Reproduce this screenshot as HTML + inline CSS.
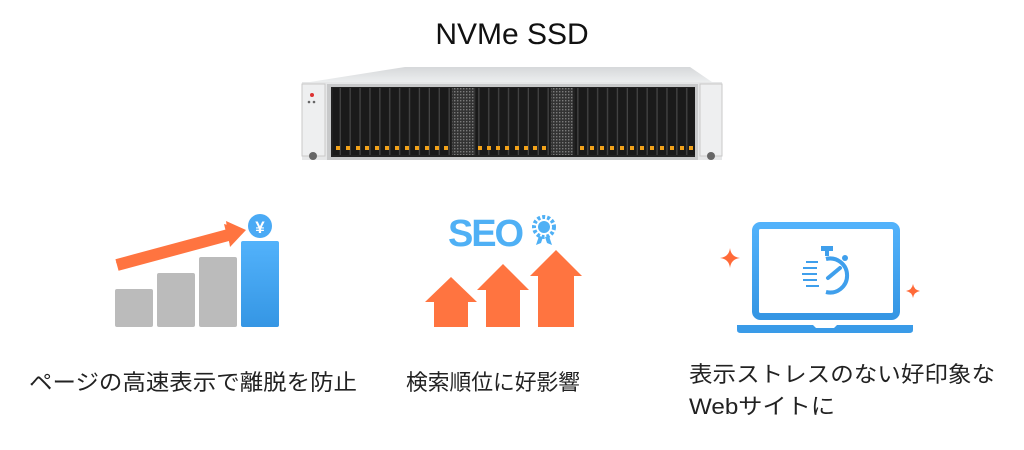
<!DOCTYPE html>
<html><head><meta charset="utf-8"><style>
html,body{margin:0;padding:0;background:#fff;width:1024px;height:450px;overflow:hidden}
svg{display:block}
.jp{font-family:"Liberation Sans","Noto Sans CJK JP",sans-serif;font-size:22px;fill:#222}
</style></head><body>
<svg width="1024" height="450" viewBox="0 0 1024 450" xmlns="http://www.w3.org/2000/svg">
<defs>
<linearGradient id="bl" x1="0" y1="0" x2="0" y2="1"><stop offset="0" stop-color="#52b2fb"/><stop offset="1" stop-color="#3596e4"/></linearGradient>
<linearGradient id="lid" x1="0" y1="0" x2="0" y2="1"><stop offset="0" stop-color="#d6d8da"/><stop offset="1" stop-color="#eceeef"/></linearGradient>
<pattern id="drv" x="332" y="0" width="9.9" height="10" patternUnits="userSpaceOnUse"><rect x="0" y="0" width="9.9" height="10" fill="#1a1a1a"/><rect x="7.6" y="0" width="1.3" height="10" fill="#444"/></pattern>
<pattern id="grl" width="3" height="3" patternUnits="userSpaceOnUse"><rect width="3" height="3" fill="#333"/><rect x="1" y="1" width="1.4" height="1.4" fill="#7a7a7a"/></pattern>
</defs>
<text x="512" y="44" text-anchor="middle" font-family="Liberation Sans,sans-serif" font-size="30" fill="#111">NVMe SSD</text>
<!-- server -->
<polygon points="405,67 690,67 712,82 310,82" fill="url(#lid)"/>
<rect x="302" y="82" width="420" height="78" fill="#e6e7e8"/>
<rect x="302" y="84" width="23" height="72" fill="#eeeff0" stroke="#c9c9c9"/>
<rect x="700" y="84" width="22" height="72" fill="#eeeff0" stroke="#c9c9c9"/>
<circle cx="312" cy="95" r="2" fill="#d33"/>
<circle cx="309" cy="102" r="1.3" fill="#666"/><circle cx="314" cy="102" r="1.3" fill="#666"/>
<circle cx="313" cy="156" r="4" fill="#666"/><circle cx="711" cy="156" r="4" fill="#666"/>
<rect x="327" y="84" width="371" height="76" fill="#c8c9ca"/>
<rect x="331" y="87" width="364" height="70" fill="#222"/>
<rect x="333" y="88" width="118" height="67" fill="url(#drv)"/>
<rect x="452" y="88" width="23" height="67" fill="url(#grl)"/>
<rect x="476" y="88" width="74" height="67" fill="url(#drv)"/>
<rect x="551" y="88" width="22" height="67" fill="url(#grl)"/>
<rect x="575" y="88" width="120" height="67" fill="url(#drv)"/>
<g fill="#f2a21a">
<rect x="336" y="146" width="4" height="4"/><rect x="346" y="146" width="4" height="4"/><rect x="356" y="146" width="4" height="4"/><rect x="365" y="146" width="4" height="4"/><rect x="375" y="146" width="4" height="4"/><rect x="385" y="146" width="4" height="4"/><rect x="395" y="146" width="4" height="4"/><rect x="405" y="146" width="4" height="4"/><rect x="415" y="146" width="4" height="4"/><rect x="425" y="146" width="4" height="4"/><rect x="435" y="146" width="4" height="4"/><rect x="444" y="146" width="4" height="4"/>
<rect x="478" y="146" width="4" height="4"/><rect x="487" y="146" width="4" height="4"/><rect x="496" y="146" width="4" height="4"/><rect x="505" y="146" width="4" height="4"/><rect x="515" y="146" width="4" height="4"/><rect x="524" y="146" width="4" height="4"/><rect x="533" y="146" width="4" height="4"/><rect x="542" y="146" width="4" height="4"/>
<rect x="580" y="146" width="4" height="4"/><rect x="590" y="146" width="4" height="4"/><rect x="600" y="146" width="4" height="4"/><rect x="610" y="146" width="4" height="4"/><rect x="620" y="146" width="4" height="4"/><rect x="630" y="146" width="4" height="4"/><rect x="640" y="146" width="4" height="4"/><rect x="650" y="146" width="4" height="4"/><rect x="660" y="146" width="4" height="4"/><rect x="670" y="146" width="4" height="4"/><rect x="680" y="146" width="4" height="4"/><rect x="689" y="146" width="4" height="4"/>
</g>
<!-- chart icon -->
<g fill="#bbb">
<rect x="115" y="289" width="38" height="38" rx="2"/>
<rect x="157" y="273" width="38" height="54" rx="2"/>
<rect x="199" y="257" width="38" height="70" rx="2"/>
</g>
<rect x="241" y="241" width="38" height="86" rx="2" fill="url(#bl)"/>
<polygon points="116,262 226,232 224,224 243,229 230,245 228,238 119,268" fill="#ff7440"/>
<line x1="117" y1="265" x2="232" y2="234" stroke="#ff7440" stroke-width="12"/>
<polygon points="226,221 246,230 230,247" fill="#ff7440"/>
<circle cx="260" cy="226" r="12" fill="#4aaaf5"/>
<text x="260" y="233" text-anchor="middle" font-family="Liberation Sans,sans-serif" font-size="17" font-weight="bold" fill="#fff">¥</text>
<!-- SEO -->
<text x="448" y="246" font-family="Liberation Sans,sans-serif" font-size="38" font-weight="bold" fill="#4fb0f5" textLength="76">SEO</text>
<circle cx="544" cy="227" r="10" fill="none" stroke="#4fb0f5" stroke-width="4" stroke-dasharray="3 2"/>
<circle cx="544" cy="227" r="6" fill="#4fb0f5"/>
<polygon points="539,236 536,245 541,243 543,237" fill="#4fb0f5"/><polygon points="549,236 552,245 547,243 545,237" fill="#4fb0f5"/>
<g fill="#ff7440">
<polygon points="451,277 477,302 468,302 468,327 434,327 434,302 425,302"/>
<polygon points="503,264 529,290 520,290 520,327 486,327 486,290 477,290"/>
<polygon points="556,250 582,276 574,276 574,327 538,327 538,276 530,276"/>
</g>
<!-- laptop -->
<rect x="755.5" y="225.5" width="141" height="91" rx="5" fill="none" stroke="url(#bl)" stroke-width="7"/>
<path d="M737,325 H813 L816,328 H834 L837,325 H913 V330 Q913,333 909,333 H741 Q737,333 737,330 Z" fill="#3a9be8"/>
<path d="M730,248 Q731,257 740,258 Q731,259 730,268 Q729,259 720,258 Q729,257 730,248Z" fill="#ff6a38"/>
<path d="M913,284 Q914,290 920,291 Q914,292 913,298 Q912,292 906,291 Q912,290 913,284Z" fill="#ff6a38"/>
<g stroke="#3f9fec" fill="none">
<path d="M826,259 A17,17 0 1 1 826,292" stroke-width="4"/>
<line x1="806" y1="262" x2="818" y2="262" stroke-width="2"/>
<line x1="803" y1="268" x2="817" y2="268" stroke-width="2"/>
<line x1="802" y1="274" x2="817" y2="274" stroke-width="2"/>
<line x1="803" y1="280" x2="817" y2="280" stroke-width="2"/>
<line x1="806" y1="286" x2="819" y2="286" stroke-width="2"/>
</g>
<rect x="821" y="246" width="12" height="5" fill="#3f9fec"/><rect x="825" y="250" width="4" height="6" fill="#3f9fec"/>
<circle cx="845" cy="258" r="3" fill="#3f9fec"/>
<line x1="828" y1="278" x2="840" y2="268" stroke="#3f9fec" stroke-width="4" stroke-linecap="round"/>
<!-- labels -->
<text class="jp" x="29" y="390" textLength="328" lengthAdjust="spacingAndGlyphs">ページの高速表示で離脱を防止</text>
<text class="jp" x="406" y="390" textLength="174" lengthAdjust="spacingAndGlyphs">検索順位に好影響</text>
<text class="jp" x="689" y="382" textLength="306" lengthAdjust="spacingAndGlyphs">表示ストレスのない好印象な</text>
<text class="jp" x="689" y="414" textLength="146" lengthAdjust="spacingAndGlyphs">Webサイトに</text>
</svg>
</body></html>
